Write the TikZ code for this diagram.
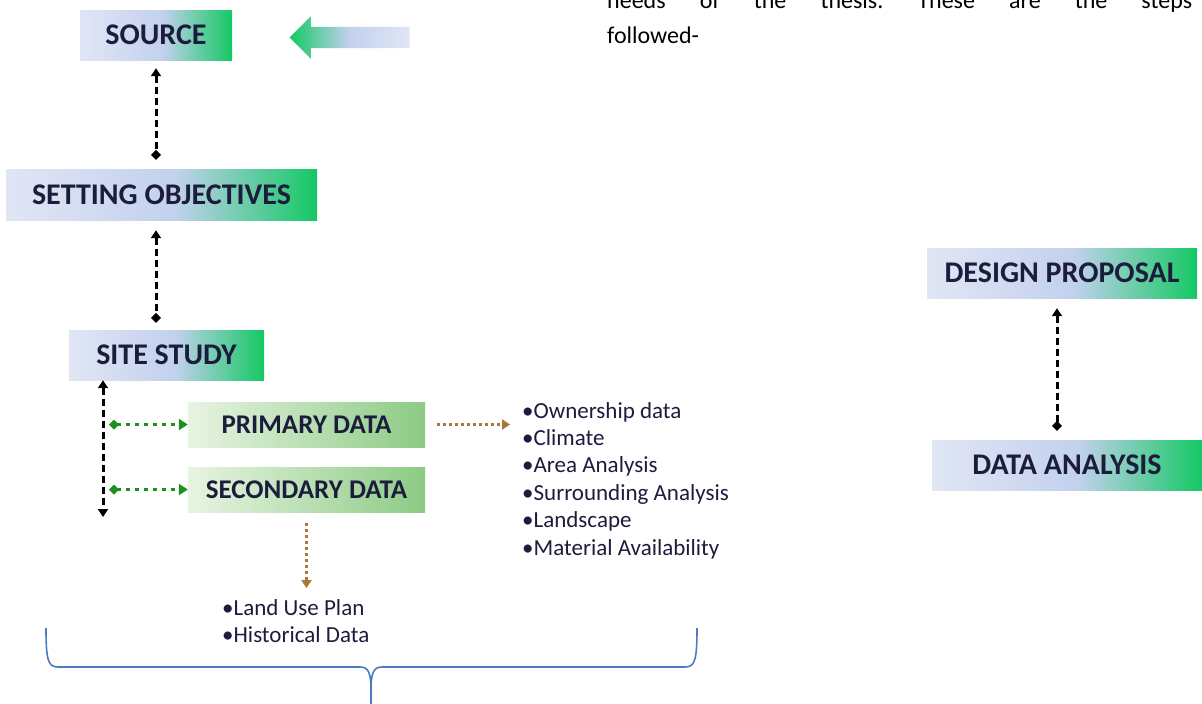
\documentclass[tikz,border=0pt]{standalone}
\usepackage{fontspec}
\setmainfont{Carlito}
\usetikzlibrary{arrows.meta,shapes.arrows}
\frenchspacing

\definecolor{boxleft}{HTML}{E0E6F4}
\definecolor{boxmid}{HTML}{C3D1EE}
\definecolor{boxright}{HTML}{14C864}
\definecolor{paleleft}{HTML}{E8F4E2}
\definecolor{paleright}{HTML}{8CCB84}
\definecolor{textnavy}{HTML}{1C1C3C}
\definecolor{linkgreen}{HTML}{1E9020}
\definecolor{linkbrown}{HTML}{A87838}
\definecolor{bracecol}{HTML}{4A7CC2}

\pgfdeclarehorizontalshading{stepshade}{100bp}{color(0bp)=(boxleft); color(25bp)=(boxleft);
  color(52bp)=(boxmid); color(75bp)=(boxright); color(100bp)=(boxright)}

\tikzset{
  stepbox/.style={shading=stepshade, inner sep=0pt, text=textnavy,
    font=\fontsize{30}{32}\selectfont\bfseries},
  databox/.style={left color=paleleft, right color=paleright, inner sep=0pt,
    minimum width=237pt, minimum height=45pt, text=textnavy,
    font=\fontsize{27}{30}\selectfont\bfseries},
  bullets/.style={inner sep=0pt, align=left, text=textnavy,
    font=\fontsize{23}{27.4}\selectfont},
  linkdash/.style={line width=3pt, dash pattern=on 7pt off 4pt, black},
  linkdot/.style={line width=3pt, dash pattern=on 4pt off 5pt, linkgreen},
  linkbr/.style={line width=3pt, dash pattern=on 3pt off 3pt, linkbrown},
}

\begin{document}
\begin{tikzpicture}[x=1pt,y=1pt]
        \useasboundingbox (0,0) rectangle (1202,-704);
        % steps
        \node [stepbox, minimum width=152pt, minimum height=50pt] (source) at (156,-35) {SOURCE};
        \node [stepbox, minimum width=311pt, minimum height=51pt] (objectives) at (161.5,-194.5) {SETTING OBJECTIVES};
        \node [stepbox, minimum width=195pt, minimum height=50pt] (site) at (166.5,-355) {SITE STUDY};
        \node [stepbox, minimum width=270pt, minimum height=50pt] (proposal) at (1062,-273) {DESIGN PROPOSAL};
        \node [stepbox, minimum width=270pt, minimum height=50pt] (analysis) at (1067,-465) {DATA ANALYSIS};
        \node [databox] (primary) at (306.5,-424.5) {PRIMARY DATA};
        \node [databox] (secondary) at (306.5,-489.5) {SECONDARY DATA};
        % block arrow
        \node [single arrow, shape border rotate=180, inner xsep=0pt, inner ysep=10.5pt,
          minimum height=120pt, single arrow head extend=10.5pt, left color=boxright,
          right color=boxleft, middle color=boxmid] (pointer) at (355,-37.5) {};
        % text
        \node [anchor=base west, inner sep=0pt, font=\fontsize{24}{30}\selectfont] (para1) at (607,-9)
          {\makebox[585pt][s]{needs of the thesis. These are the steps}};
        \node [anchor=base west, inner sep=0pt, font=\fontsize{24}{30}\selectfont] (para2) at (607,-43) {followed-};
        \node [bullets, anchor=north west] (ownlist) at (522,-402)
          {•Ownership data\\•Climate\\•Area Analysis\\•Surrounding Analysis\\•Landscape\\•Material Availability};
        \node [bullets, anchor=north west] (landlist) at (222,-599) {•Land Use Plan\\•Historical Data};
        % connectors
        \coordinate (spineend) at (103,-517);
        \draw [linkdash, {Triangle[width=10pt,length=8pt]}-{Diamond[width=10pt,length=10pt]},
          shorten <=8pt, shorten >=9pt] (source.south) -- (source.south |- objectives.north);
        \draw [linkdash, {Triangle[width=10pt,length=8pt]}-{Diamond[width=10pt,length=10pt]},
          shorten <=10pt, shorten >=7pt] (source.south |- objectives.south) -- (source.south |- site.north);
        \draw [linkdash, {Triangle[width=10pt,length=8pt]}-{Triangle[width=10pt,length=8pt]}]
          (site.south -| spineend) -- (spineend);
        \draw [linkdot, {Diamond[width=10pt,length=10pt]}-{Triangle[width=11pt,length=9pt]},
          shorten <=6pt] (spineend |- primary.west) -- (primary.west);
        \draw [linkdot, {Diamond[width=10pt,length=10pt]}-{Triangle[width=11pt,length=9pt]},
          shorten <=6pt] (spineend |- secondary.west) -- (secondary.west);
        \draw [linkbr, -{Triangle[width=10pt,length=8pt]}, shorten <=12pt, shorten >=12pt]
          (primary.east) -- (primary.east -| ownlist.west);
        \draw [linkbr, -{Triangle[width=10pt,length=8pt]}, shorten <=11pt, shorten >=11pt]
          (secondary.south) -- (secondary.south |- landlist.north);
        \draw [linkdash, {Triangle[width=10pt,length=8pt]}-{Diamond[width=10pt,length=10pt]},
          shorten <=10pt, shorten >=9pt] (proposal.south -| 1057,0) -- (analysis.north -| 1057,0);
        % brace
        \coordinate (braceleft) at (46,-628);
        \coordinate (braceright) at (697,-628);
        \coordinate (bracetip) at (371,-706);
        \draw [bracecol, line width=1.6pt] (braceleft) .. controls (46,-660) and (48,-667) .. (58,-667)
          -- (360,-667) .. controls (368,-667) and (371,-672) .. (371,-690) -- (bracetip);
        \draw [bracecol, line width=1.6pt] (braceright) .. controls (697,-660) and (695,-667) .. (685,-667)
          -- (382,-667) .. controls (374,-667) and (371,-672) .. (371,-690);
\end{tikzpicture}
\end{document}
